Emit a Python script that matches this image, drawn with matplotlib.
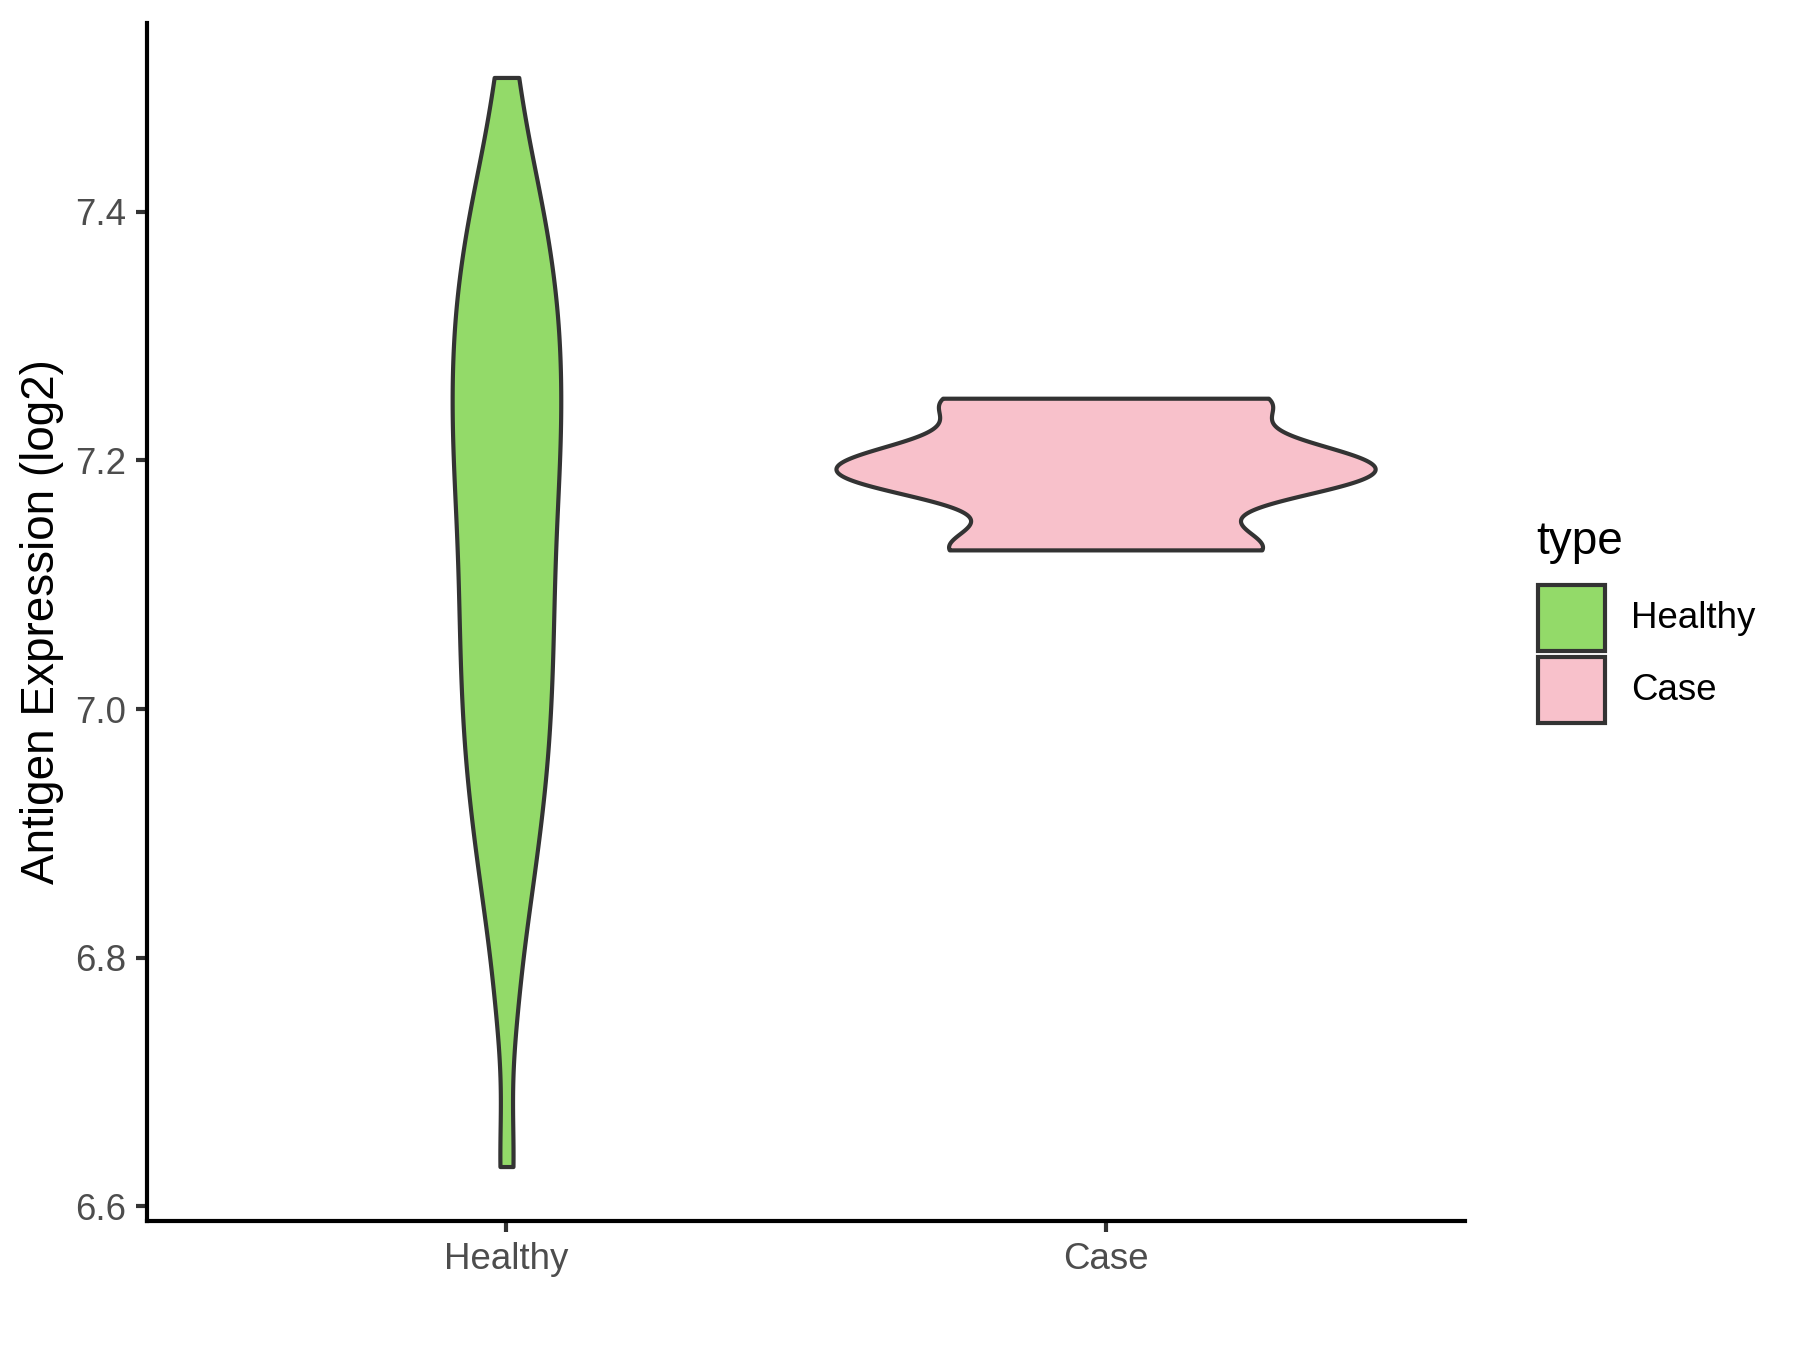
import numpy as np
import matplotlib.pyplot as plt
from matplotlib.patches import Rectangle

plt.rcParams['font.family'] = ['Liberation Sans', 'DejaVu Sans']

# groups and fill colours
groups = ['Healthy', 'Case']
colors = ['#93DA69', '#F8C1CB']

# expression values (log2)
healthy = [6.632, 6.755, 6.8165, 6.850, 6.879, 6.903, 6.925, 6.944, 6.963, 6.981,
           6.998, 7.016, 7.032, 7.049, 7.065, 7.082, 7.098, 7.114, 7.131, 7.147,
           7.162, 7.177, 7.192, 7.207, 7.221, 7.234, 7.248, 7.262, 7.277, 7.291,
           7.305, 7.319, 7.333, 7.349, 7.367, 7.384, 7.402, 7.427, 7.452, 7.508]
case = [7.128, 7.182, 7.203, 7.25]
bandwidth = [0.05, 0.0205]

yticks = [6.6, 6.8, 7.0, 7.2, 7.4]


def kde(vals, h, grid):
    vals = np.asarray(vals)
    z = (grid[:, None] - vals[None, :]) / h
    return np.exp(-0.5 * z ** 2).sum(axis=1) / (len(vals) * h * np.sqrt(2 * np.pi))


data = [healthy, case]
grids, dens = [], []
for vals, h in zip(data, bandwidth):
    g = np.linspace(min(vals), max(vals), 512)
    grids.append(g)
    dens.append(kde(vals, h, g))
dmax = max(d.max() for d in dens)

fig = plt.figure(figsize=(6, 4.5), dpi=300)
ax = fig.add_axes([147 / 1800, 129 / 1350, 1318 / 1800, 1198 / 1350])

line_col = '#333333'
for i, (g, d) in enumerate(zip(grids, dens)):
    pos = i + 1
    hw = 0.45 * d / dmax
    ax.fill_betweenx(g, pos - hw, pos + hw, facecolor=colors[i],
                     edgecolor=line_col, linewidth=1.0, joinstyle='round')

allv = np.concatenate([healthy, case])
lo, hi = allv.min(), allv.max()
pad = 0.05 * (hi - lo)
ax.set_ylim(lo - pad, hi + pad)
ax.set_xlim(0.4, 2.6)

ax.set_xticks([1, 2])
ax.set_xticklabels(groups)
ax.set_yticks(yticks)
ax.set_yticklabels(['%.1f' % t for t in yticks])
ax.tick_params(axis='both', length=2.75, width=1.0, color=line_col,
               labelsize=8.8, labelcolor='#4D4D4D', pad=2.2)

for s in ['top', 'right']:
    ax.spines[s].set_visible(False)
for s in ['left', 'bottom']:
    ax.spines[s].set_linewidth(1.0)
    ax.spines[s].set_color('black')

fig.text(42 / 1800, 1 - 622 / 1350, 'Antigen Expression (log2)', rotation=90,
         ha='center', va='center', fontsize=11)

# legend
fig.text(1536 / 1800, 1 - 542 / 1350, 'type', ha='left', va='center', fontsize=11)
key_tops = [585, 657]
label_y = [619, 691]
for i, name in enumerate(groups):
    fig.add_artist(Rectangle((1538 / 1800, 1 - (key_tops[i] + 66) / 1350),
                             67 / 1800, 66 / 1350, transform=fig.transFigure,
                             facecolor=colors[i], edgecolor=line_col, linewidth=1.0))
    fig.text(1631 / 1800, 1 - label_y[i] / 1350, name, ha='left', va='center',
             fontsize=8.8)

fig.savefig('out.png', dpi=300)
